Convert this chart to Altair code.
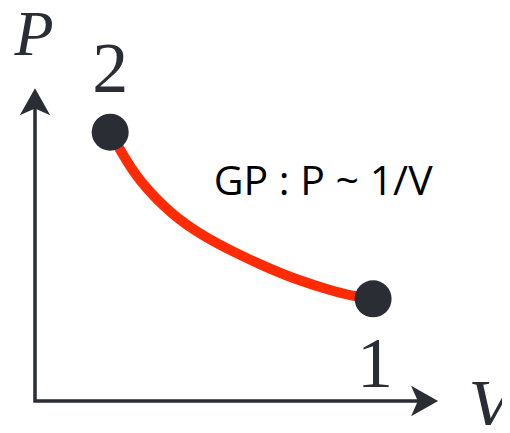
import altair as alt
import pandas as pd

# Curve (V, P), in arbitrary units
curve_v = [1.61, 1.86, 2.21, 2.93, 3.64, 4.26, 4.88, 5.61, 6.32, 6.81, 7.24]
curve_p = [6.84, 6.31, 5.62, 4.73, 4.17, 3.79, 3.44, 3.08, 2.82, 2.67, 2.60]

# State points
state_names = ["2", "1"]
state_v = [1.61, 7.24]
state_p = [6.84, 2.60]

# Axes (corner path) and arrow-head positions
axis_v = [0.0, 0.0, 8.3]
axis_p = [7.6, 0.0, 0.0]
arrow_up_v, arrow_up_p = [0.0], [7.53]
arrow_right_v, arrow_right_p = [8.27], [0.0]

# Labels
serif_text = ["2", "1"]
serif_v = [1.61, 7.28]
serif_p = [7.86, 0.36]
axis_label_text = ["P", "V"]
axis_label_v = [-0.02, 9.74]
axis_label_p = [8.80, -0.69]
axis_label_size = [64, 70]
note_text = ["GP : P ~ 1/V"]
note_v = [6.17]
note_p = [5.24]

DARK = "#2b2d35"
RED = "#ff2b05"

xs = alt.Scale(domain=[0, 10])
ys = alt.Scale(domain=[0, 10])
X = lambda: alt.X("v:Q", scale=xs, axis=None)
Y = lambda: alt.Y("p:Q", scale=ys, axis=None)

axis_df = pd.DataFrame({"v": axis_v, "p": axis_p, "o": [0, 1, 2]})
axes = alt.Chart(axis_df).mark_line(color=DARK, strokeWidth=3.5, strokeJoin="miter", clip=False).encode(
    x=X(), y=Y(), order="o:Q"
)

up = alt.Chart(pd.DataFrame({"v": arrow_up_v, "p": arrow_up_p})).mark_point(
    shape="M0,-1L0.9,0.6L0,0.2L-0.9,0.6Z", size=1142, filled=True, opacity=1, color=DARK, strokeWidth=0
).encode(x=X(), y=Y())
right = alt.Chart(pd.DataFrame({"v": arrow_right_v, "p": arrow_right_p})).mark_point(
    shape="M1,0L-0.6,0.9L-0.2,0L-0.6,-0.9Z", size=1142, filled=True, opacity=1, color=DARK, strokeWidth=0
).encode(x=X(), y=Y())

curve_df = pd.DataFrame({"v": curve_v, "p": curve_p, "o": list(range(len(curve_v)))})
curve = alt.Chart(curve_df).mark_line(color=RED, strokeWidth=10, interpolate="basis", strokeCap="round").encode(
    x=X(), y=Y(), order="o:Q"
)

pts = alt.Chart(pd.DataFrame({"name": state_names, "v": state_v, "p": state_p})).mark_point(
    shape="circle", size=1369, filled=True, opacity=1, color=DARK, strokeWidth=0
).encode(x=X(), y=Y())

nums = alt.Chart(pd.DataFrame({"t": serif_text, "v": serif_v, "p": serif_p})).mark_text(
    font="Liberation Serif", fontSize=72, color=DARK, align="center", baseline="alphabetic"
).encode(x=X(), y=Y(), text="t:N")

axlab = alt.Chart(pd.DataFrame({"t": axis_label_text, "v": axis_label_v, "p": axis_label_p,
                                "s": axis_label_size})).mark_text(
    font="Liberation Serif", fontStyle="italic", color=DARK, align="center", baseline="alphabetic"
).encode(x=X(), y=Y(), text="t:N", size=alt.Size("s:Q", scale=None, legend=None))

note = alt.Chart(pd.DataFrame({"t": note_text, "v": note_v, "p": note_p})).mark_text(
    font="Open Sans", fontSize=41, color="#000000", align="center", baseline="alphabetic"
).encode(x=X(), y=Y(), text="t:N")

chart = alt.layer(axes, up, right, curve, pts, nums, axlab, note).properties(
    width=467, height=393,
    background="white",
    autosize=alt.AutoSizeParams(type="none"),
    padding={"left": 27, "top": 0, "right": 0, "bottom": 24},
).configure_view(stroke=None)

chart.save("out.html", embed_options={"renderer": "svg", "actions": False})
